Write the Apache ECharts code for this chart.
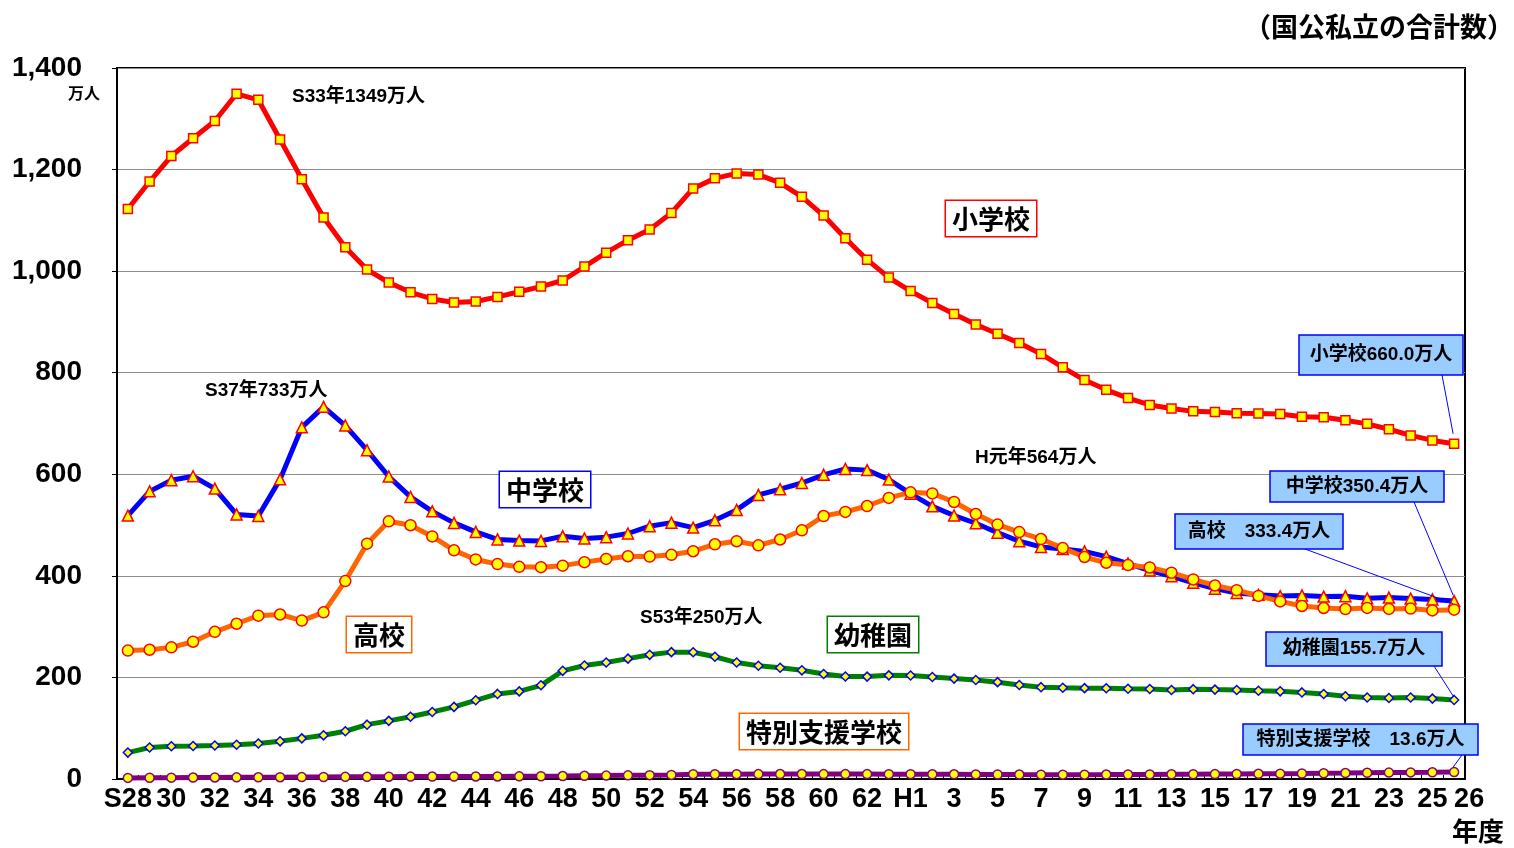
<!DOCTYPE html>
<html>
<head>
<meta charset="utf-8">
<script src="https://cdn.jsdelivr.net/npm/echarts@6/dist/echarts.min.js"></script>
<style>
  html, body { margin: 0; padding: 0; background: #fff; }
  #main { width: 1514px; height: 848px; }
</style>
</head>
<body>
<div id="main"></div>
<script>
// 年度 (S28 .. S63, H1 .. H26)
const years = [
  "S28", "29", "30", "31", "32", "33", "34", "35", "36", "37",
  "38", "39", "40", "41", "42", "43", "44", "45", "46", "47",
  "48", "49", "50", "51", "52", "53", "54", "55", "56", "57",
  "58", "59", "60", "61", "62", "63", "H1", "2", "3", "4",
  "5", "6", "7", "8", "9", "10", "11", "12", "13", "14",
  "15", "16", "17", "18", "19", "20", "21", "22", "23", "24",
  "25", "26"
];
// 在学者数 (万人)
const shogakko = [
  1122.5, 1176.4, 1226.7, 1261.7, 1295.6, 1349.2, 1337.4, 1259.1, 1181.1, 1105.7,
  1047.1, 1003.1, 977.6, 958.4, 945.3, 938.3, 940.3, 949.3, 959.5, 969.6,
  981.6, 1008.9, 1036.4, 1061.0, 1082.0, 1114.6, 1162.9, 1182.7, 1192.5, 1190.1,
  1173.9, 1146.4, 1109.5, 1064.9, 1022.6, 987.3, 960.7, 937.3, 915.7, 894.9,
  876.8, 858.3, 837.0, 810.6, 785.5, 766.3, 750.0, 736.6, 729.7, 723.9,
  722.7, 720.1, 719.7, 718.8, 713.3, 712.2, 706.3, 699.3, 688.7, 676.5,
  666.7, 660.0
];
const chugakko = [
  518.7, 566.4, 588.4, 596.2, 571.8, 521.0, 518.0, 590.0, 692.5, 732.8,
  696.0, 647.5, 595.7, 555.5, 527.0, 504.3, 486.5, 471.7, 469.4, 468.8,
  477.9, 473.5, 476.2, 483.4, 497.7, 504.8, 495.0, 509.4, 529.9, 559.4,
  570.6, 582.8, 599.0, 610.6, 608.2, 589.6, 561.9, 536.9, 518.8, 503.6,
  485.0, 468.1, 457.0, 452.7, 448.1, 438.0, 424.3, 410.4, 399.2, 386.2,
  374.8, 366.3, 362.6, 360.2, 361.5, 359.2, 360.0, 355.8, 357.3, 355.3,
  353.6, 350.4
];
const koko = [
  252.8, 254.5, 259.2, 270.3, 289.8, 305.7, 321.6, 323.9, 311.9, 328.2,
  389.7, 463.4, 507.4, 499.7, 477.6, 450.2, 432.3, 423.2, 417.8, 417.1,
  420.1, 427.0, 433.3, 438.6, 438.0, 441.4, 448.5, 462.2, 468.2, 460.1,
  471.6, 489.7, 517.8, 525.9, 537.5, 553.4, 564.4, 562.3, 545.5, 521.8,
  501.0, 486.2, 472.5, 454.7, 437.1, 425.8, 421.2, 416.5, 406.2, 392.9,
  381.0, 371.9, 360.5, 349.7, 340.7, 336.7, 334.7, 336.9, 334.9, 335.5,
  332.0, 333.4
];
const yochien = [
  52.0, 62.0, 64.5, 65.0, 66.0, 67.5, 70.0, 74.2, 80.0, 86.0,
  94.0, 107.0, 114.5, 122.5, 132.0, 142.0, 155.0, 167.5, 172.5, 184.5,
  213.0, 223.5, 229.5, 237.0, 244.5, 249.8, 249.7, 240.7, 229.3, 223.0,
  219.0, 214.0, 206.8, 201.8, 201.6, 204.1, 203.7, 200.8, 197.7, 194.9,
  190.7, 185.2, 180.8, 179.8, 178.9, 178.6, 177.8, 177.3, 175.3, 176.9,
  176.0, 175.3, 173.8, 172.6, 170.5, 167.4, 163.0, 160.5, 159.6, 160.4,
  158.3, 155.7
];
const tokubetsu = [
  2.2, 2.5, 2.7, 2.9, 3.1, 3.2, 3.3, 3.5, 3.7, 3.9,
  4.2, 4.3, 4.5, 4.7, 4.8, 4.9, 5.0, 5.0, 5.2, 5.4,
  5.8, 6.3, 6.7, 7.2, 7.6, 8.1, 9.5, 9.4, 9.5, 9.6,
  9.7, 9.7, 9.6, 9.6, 9.6, 9.5, 9.5, 9.3, 9.2, 9.0,
  8.9, 8.7, 8.6, 8.6, 8.6, 8.7, 8.9, 9.0, 9.3, 9.4,
  9.6, 9.8, 10.2, 10.5, 10.8, 11.3, 11.7, 12.2, 12.6, 13.0,
  13.2, 13.6
];
const yTicks = [0, 200, 400, 600, 800, 1000, 1200, 1400];

const FONT = "'Liberation Sans', 'Noto Sans CJK JP', sans-serif";
const JP = "'Noto Sans CJK JP', 'Liberation Sans', sans-serif";

const chart = echarts.init(document.getElementById("main"));

function lineSeries(name, data, lineColor, symbol, size, fill, border) {
  return {
    name: name,
    type: "line",
    data: data,
    symbol: symbol,
    symbolSize: size,
    showAllSymbol: true,
    lineStyle: { color: lineColor, width: 5 },
    itemStyle: { color: fill, borderColor: border, borderWidth: 1.5 },
    emphasis: { disabled: true },
    animation: false
  };
}

chart.setOption({
  animation: false,
  grid: {
    left: 117,
    right: 49,
    top: 68,
    bottom: 69,
    show: true,
    borderColor: "#000",
    borderWidth: 2
  },
  xAxis: {
    type: "category",
    data: years,
    boundaryGap: true,
    axisLine: { lineStyle: { color: "#000", width: 2 } },
    axisTick: { show: true, inside: true, length: 4, interval: 0, lineStyle: { color: "#000" } },
    axisLabel: {
      interval: function (i) { return i % 2 === 0 || i === years.length - 1; },
      color: "#000",
      fontFamily: FONT,
      fontSize: 27,
      fontWeight: "bold",
      margin: 7,
      formatter: function (v, i) {
        return i === years.length - 1 ? "{e|" + v + "}" : v;
      },
      rich: {
        e: { padding: [0, 0, 0, 30], fontFamily: FONT, fontSize: 27, fontWeight: "bold", color: "#000" }
      }
    },
    splitLine: { show: false }
  },
  yAxis: {
    type: "value",
    min: yTicks[0],
    max: yTicks[yTicks.length - 1],
    interval: 200,
    axisLine: { show: true, lineStyle: { color: "#000", width: 2 } },
    axisTick: { show: true, length: 5, lineStyle: { color: "#000" } },
    axisLabel: {
      color: "#000",
      fontFamily: FONT,
      fontSize: 28,
      fontWeight: "bold",
      margin: 35,
      formatter: function (v) { return v.toLocaleString("en-US"); }
    },
    splitLine: { lineStyle: { color: "#8c8c8c", width: 1 } }
  },
  series: [
    lineSeries("特別支援学校", tokubetsu, "#800080", "circle", 9, "#ffff00", "#800080"),
    lineSeries("幼稚園", yochien, "#008000", "diamond", 9, "#ffff00", "#0000ff"),
    lineSeries("中学校", chugakko, "#0000ff", "triangle", 11, "#ffff00", "#ff0000"),
    lineSeries("高校", koko, "#ff6600", "circle", 11, "#ffff00", "#ff0000"),
    lineSeries("小学校", shogakko, "#ff0000", "rect", 9, "#ffff00", "#ff0000")
  ]
});

// 注記
function note(x, y, text, size, align, family) {
  return {
    type: "text", x: x, y: y, z: 50,
    style: {
      text: text, font: "bold " + size + "px " + (family || FONT), fill: "#000",
      verticalAlign: "middle", align: align || "left"
    }
  };
}
function boxLabel(x, y, text, color) {
  return {
    type: "text", x: x, y: y, z: 50,
    style: {
      text: text, font: "bold 26px " + JP, fill: "#000",
      backgroundColor: "#fff", borderColor: color, borderWidth: 1.5,
      padding: [5, 6, 4, 6]
    }
  };
}
function callout(x, y, w, h, text, seriesIndex, data, bx, off) {
  const last = data.length - 1;
  const p = chart.convertToPixel({ seriesIndex: seriesIndex }, [last, data[last]]);
  return [
    {
      type: "line", z: 40,
      shape: { x1: bx, y1: y + h, x2: p[0] - 1, y2: p[1] - off },
      style: { stroke: "#0000ff", lineWidth: 1 }
    },
    {
      type: "rect", z: 45,
      shape: { x: x, y: y, width: w, height: h },
      style: { fill: "#99ccff", stroke: "#0000ff", lineWidth: 1.5 }
    },
    {
      type: "text", z: 46, x: x + w / 2, y: y + h / 2,
      style: {
        text: text, font: "bold 19px " + FONT, fill: "#000",
        align: "center", verticalAlign: "middle"
      }
    }
  ];
}

const graphics = [
  note(1514, 27, "（国公私立の合計数）", 27, "right", JP),
  note(68, 95, "万人", 16),
  note(1452, 834, "年度", 26),
  note(292, 97, "S33年1349万人", 19),
  note(205, 391, "S37年733万人", 19),
  note(975, 458, "H元年564万人", 19),
  note(640, 618, "S53年250万人", 19),
  boxLabel(946, 201, "小学校", "#ff0000"),
  boxLabel(500, 472, "中学校", "#0000ff"),
  boxLabel(347, 617, "高校", "#ff6600"),
  boxLabel(828, 617, "幼稚園", "#008000"),
  boxLabel(740, 714, "特別支援学校", "#ff6600")
]
  .concat(callout(1299, 335, 164, 40, "小学校660.0万人", 4, shogakko, 1442, 10))
  .concat(callout(1270, 471, 174, 31, "中学校350.4万人", 2, chugakko, 1414, 6))
  .concat(callout(1175, 514, 168, 35, "高校　333.4万人", 3, koko, 1305, 6))
  .concat(callout(1266, 632, 176, 34, "幼稚園155.7万人", 1, yochien, 1434, 4))
  .concat(callout(1243, 724, 235, 31, "特別支援学校　13.6万人", 0, tokubetsu, 1462, 5));

chart.setOption({ graphic: graphics });
</script>
</body>
</html>
